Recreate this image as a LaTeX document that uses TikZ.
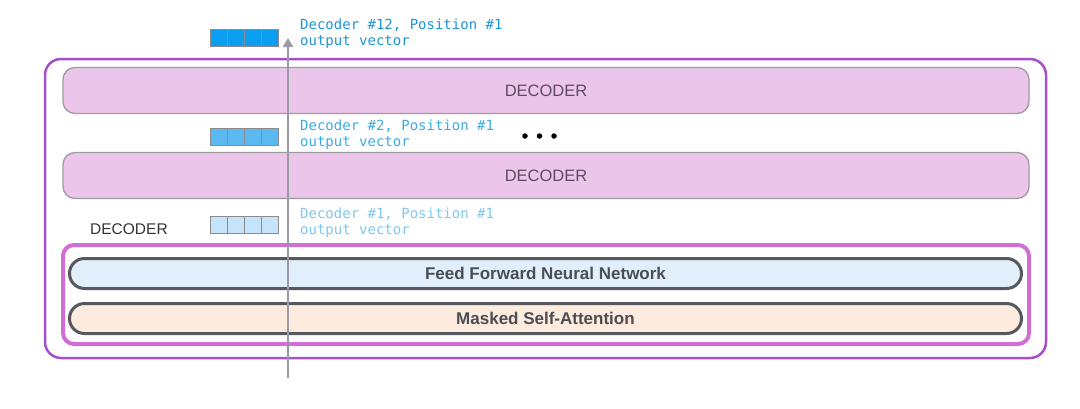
\documentclass[tikz,border=0pt]{standalone}
\usepackage{fontspec}
\setmainfont{Liberation Sans}
\setmonofont{DejaVu Sans Mono}
\usetikzlibrary{arrows.meta,calc}
\definecolor{outerpurple}{HTML}{A450C8}
\definecolor{innermag}{HTML}{D06ED6}
\definecolor{decfill}{HTML}{ECC6EA}
\definecolor{decdraw}{HTML}{9E9AA2}
\definecolor{dectext}{HTML}{5C4B63}
\definecolor{fffill}{HTML}{E1EFFC}
\definecolor{msafill}{HTML}{FDEBDD}
\definecolor{pilldraw}{HTML}{55595E}
\definecolor{pilltext}{HTML}{4A4E54}
\definecolor{arrowgray}{HTML}{9A99A6}
\definecolor{vecA}{HTML}{0A9FF0}
\definecolor{vecB}{HTML}{5BB8F0}
\definecolor{vecC}{HTML}{C5E3FA}
\definecolor{cellgray}{HTML}{8C8C8C}
\definecolor{txtA}{HTML}{1B95D6}
\definecolor{txtB}{HTML}{3AAAE6}
\definecolor{txtC}{HTML}{7EC6F0}
\definecolor{labeldark}{HTML}{333333}
\tikzset{
  outerbox/.style={draw=outerpurple, line width=2.5pt, rounded corners=16pt},
  innerbox/.style={draw=innermag, line width=4pt, rounded corners=11pt},
  decbox/.style={draw=decdraw, fill=decfill, line width=1.3pt, rounded corners=12pt,
    minimum width=966pt, minimum height=46pt, inner sep=0pt,
    text=dectext, font=\fontsize{16.5}{18}\selectfont},
  pill/.style={draw=pilldraw, line width=3pt, rounded corners=15pt,
    minimum width=952pt, minimum height=30pt, inner sep=0pt,
    text=pilltext, font=\bfseries\fontsize{17}{19}\selectfont},
  vecbox/.style={draw=cellgray, line width=0.9pt, minimum width=68pt, minimum height=17pt, inner sep=0pt},
  celldiv/.style={draw=cellgray, line width=0.9pt},
  vlabel/.style={font=\ttfamily\fontsize{14}{16}\selectfont, align=left, anchor=base west, inner sep=0pt},
  flow/.style={draw=arrowgray, line width=2pt, -{Triangle[length=9pt,width=10pt]}},
  dot/.style={circle, fill=black, inner sep=0pt, minimum size=5.5pt}
}
\begin{document}
\begin{tikzpicture}[x=1pt,y=-1pt]
\useasboundingbox (0,0) rectangle (1080,408);
% outer decoder stack frame
\draw[outerbox] (45,59) rectangle (1046,358);
% decoder boxes
\node[decbox] (dec12) at (546,90.5) {DECODER};
\node[decbox] (dec2) at (546,175.5) {DECODER};
% inner decoder frame
\draw[innerbox] (63,245) rectangle (1029,344);
\node[pill, fill=fffill] (ff) at (545.5,273.5) {Feed Forward Neural Network};
\node[pill, fill=msafill] (msa) at (545.5,318.5) {Masked Self-Attention};
% left label
\node[font=\fontsize{15.5}{17}\selectfont, text=labeldark, anchor=base west, inner sep=0pt] (declabel) at (90,234) {DECODER};
% vectors
\node[vecbox, fill=vecA] (vA) at (244.5,38) {};
\node[vecbox, fill=vecB] (vB) at (244.5,136.5) {};
\node[vecbox, fill=vecC] (vC) at (244.5,224.5) {};
\foreach \v in {vA,vB,vC}{
  \foreach \f in {0.25,0.5,0.75}{
    \draw[celldiv] ($(\v.north west)!\f!(\v.north east)$) -- ($(\v.south west)!\f!(\v.south east)$);
  }
}
% vector labels
\node[vlabel, text=txtA] (tA) at (300,45) {Decoder \#12, Position \#1\\output vector};
\node[vlabel, text=txtB] (tB) at (300,146) {Decoder \#2, Position \#1\\output vector};
\node[vlabel, text=txtC] (tC) at (300,234) {Decoder \#1, Position \#1\\output vector};
% ellipsis
\node[dot] (d1) at (525,136) {};
\node[dot] (d2) at (539.5,136) {};
\node[dot] (d3) at (554,136) {};
% flow arrow
\coordinate (fbot) at (288,378);
\coordinate (ftop) at (288,38);
\draw[flow] (fbot) -- (ftop);
\end{tikzpicture}
\end{document}
